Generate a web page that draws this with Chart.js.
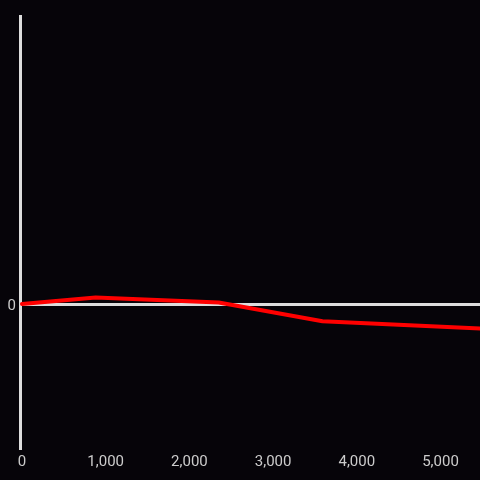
<!DOCTYPE html>
<html>
<head>
<meta charset="utf-8">
<script src="https://cdn.jsdelivr.net/npm/chart.js@4/dist/chart.umd.min.js"></script>
<style>
html,body{margin:0;padding:0;background:#060409;}
#wrap{width:480px;height:480px;position:relative;}
</style>
</head>
<body>
<div id="wrap"><canvas id="c" width="480" height="480"></canvas></div>
<script>
const xValues = [0, 880, 2350, 3590, 5480];
const yValues = [0, 0.045, 0.01, -0.12, -0.17];
const xTickValues = [0, 1000, 2000, 3000, 4000, 5000];
const yTickValues = [0];

const points = xValues.map((x, i) => ({x: x, y: yValues[i]}));

new Chart(document.getElementById('c'), {
  type: 'line',
  data: {
    datasets: [{
      data: points,
      borderColor: '#ff0000',
      borderWidth: 4,
      pointRadius: 0,
      tension: 0,
      borderJoinStyle: 'round',
      borderCapStyle: 'round',
      fill: false
    }]
  },
  options: {
    responsive: false,
    animation: false,
    devicePixelRatio: 1,
    layout: {padding: {top: 16, right: 0, left: 0, bottom: 0}},
    plugins: {legend: {display: false}, tooltip: {enabled: false}},
    scales: {
      x: {
        type: 'linear',
        min: -24,
        max: 5472,
        afterBuildTicks: (axis) => { axis.ticks = xTickValues.map(v => ({value: v})); },
        afterFit: (scale) => { scale.height = 32; },
        grid: {display: false, drawTicks: false},
        border: {display: false},
        ticks: {
          color: '#cccccc',
          font: {family: 'Roboto', size: 15},
          padding: 5,
          maxRotation: 0,
          autoSkip: false,
          callback: (v) => v.toLocaleString('en-US')
        }
      },
      y: {
        type: 'linear',
        min: -1,
        max: 2,
        afterBuildTicks: (axis) => { axis.ticks = yTickValues.map(v => ({value: v})); },
        afterFit: (scale) => { scale.width = 20; },
        grid: {color: '#dddddd', lineWidth: 3, drawTicks: false},
        border: {display: true, color: '#dddddd', width: 3},
        ticks: {
          color: '#cccccc',
          font: {family: 'Roboto', size: 15},
          padding: 4,
          labelOffset: 2,
          callback: (v) => v.toLocaleString('en-US')
        }
      }
    }
  },
  plugins: [{
    id: 'bg',
    beforeDraw: (chart) => {
      const ctx = chart.ctx;
      ctx.save();
      ctx.fillStyle = '#060409';
      ctx.fillRect(0, 0, chart.width, chart.height);
      ctx.restore();
    }
  }]
});
</script>
</body>
</html>
